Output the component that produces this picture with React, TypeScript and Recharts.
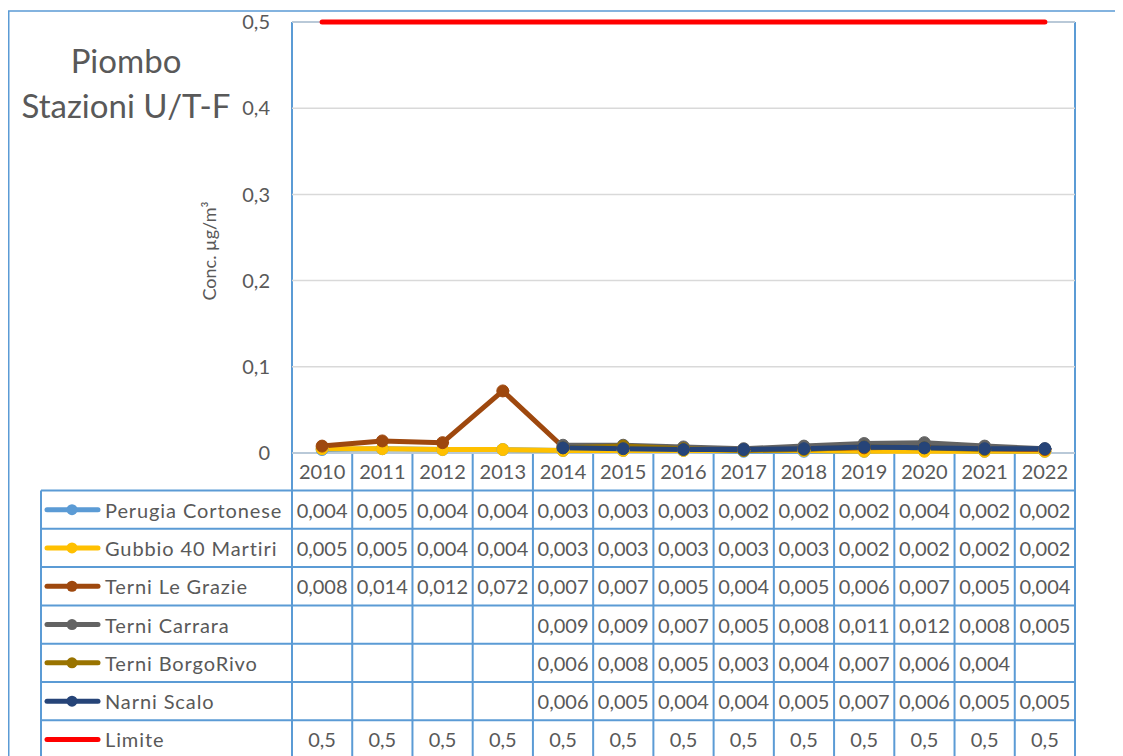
import React from 'react';
import { LineChart, Line, XAxis, YAxis, CartesianGrid } from 'recharts';

// Years on the category axis
const YEARS = ['2010', '2011', '2012', '2013', '2014', '2015', '2016', '2017', '2018', '2019', '2020', '2021', '2022'];

// Annual mean lead concentration (µg/m³) per station
const PERUGIA_CORTONESE = [0.004, 0.005, 0.004, 0.004, 0.003, 0.003, 0.003, 0.002, 0.002, 0.002, 0.004, 0.002, 0.002];
const GUBBIO_40_MARTIRI = [0.005, 0.005, 0.004, 0.004, 0.003, 0.003, 0.003, 0.003, 0.003, 0.002, 0.002, 0.002, 0.002];
const TERNI_LE_GRAZIE = [0.008, 0.014, 0.012, 0.072, 0.007, 0.007, 0.005, 0.004, 0.005, 0.006, 0.007, 0.005, 0.004];
const TERNI_CARRARA = [null, null, null, null, 0.009, 0.009, 0.007, 0.005, 0.008, 0.011, 0.012, 0.008, 0.005];
const TERNI_BORGORIVO = [null, null, null, null, 0.006, 0.008, 0.005, 0.003, 0.004, 0.007, 0.006, 0.004, null];
const NARNI_SCALO = [null, null, null, null, 0.006, 0.005, 0.004, 0.004, 0.005, 0.007, 0.006, 0.005, 0.005];
const LIMITE = [0.5, 0.5, 0.5, 0.5, 0.5, 0.5, 0.5, 0.5, 0.5, 0.5, 0.5, 0.5, 0.5];

const Y_TICKS = [0, 0.1, 0.2, 0.3, 0.4, 0.5];

type Series = { key: string; name: string; color: string; values: (number | null)[]; markers: boolean };

const SERIES: Series[] = [
  { key: 'perugia', name: 'Perugia  Cortonese', color: '#5B9BD5', values: PERUGIA_CORTONESE, markers: true },
  { key: 'gubbio', name: 'Gubbio  40 Martiri', color: '#FFC000', values: GUBBIO_40_MARTIRI, markers: true },
  { key: 'grazie', name: 'Terni Le Grazie', color: '#9E480E', values: TERNI_LE_GRAZIE, markers: true },
  { key: 'carrara', name: 'Terni Carrara', color: '#636363', values: TERNI_CARRARA, markers: true },
  { key: 'borgorivo', name: 'Terni BorgoRivo', color: '#997300', values: TERNI_BORGORIVO, markers: true },
  { key: 'narni', name: 'Narni Scalo', color: '#264478', values: NARNI_SCALO, markers: true },
  { key: 'limite', name: 'Limite', color: '#FF0000', values: LIMITE, markers: false },
];

const data = YEARS.map((year, i) => {
  const row: Record<string, string | number | null> = { year };
  SERIES.forEach((s) => {
    row[s.key] = s.values[i];
  });
  return row;
});

// Layout
const W = 1115;
const H = 748;
const PLOT_LEFT = 284;
const PLOT_RIGHT = 1067;
const PLOT_TOP = 14;
const PLOT_BOTTOM = 445;
const Y_AXIS_W = 60;
const X_AXIS_H = 40;
const COL_W = (PLOT_RIGHT - PLOT_LEFT) / YEARS.length;
const TABLE_LEFT = 33;
const ROW_TOP = 482.5;
const ROW_H = 38.3;

const BLUE = '#5B9BD5';
const TEXT = '#595959';
const FONT = 'Lato, "Open Sans", sans-serif';

const fmt = (v: number) => String(v).replace('.', ',');

function Frame() {
  const colXs = Array.from({ length: YEARS.length + 1 }, (_, k) => PLOT_LEFT + k * COL_W);
  const rowYs = Array.from({ length: SERIES.length + 2 }, (_, k) => ROW_TOP + k * ROW_H);
  return (
    <svg width={W} height={H} style={{ position: 'absolute', left: 0, top: 0 }}>
      {/* chart area border */}
      <rect x={0.75} y={3} width={W + 50} height={H + 50} fill="#fff" stroke={BLUE} strokeWidth={1.5} />
      {/* plot area border */}
      <line x1={PLOT_LEFT} y1={PLOT_TOP} x2={PLOT_RIGHT} y2={PLOT_TOP} stroke={BLUE} strokeWidth={2} />
      <line x1={PLOT_LEFT} y1={PLOT_TOP} x2={PLOT_LEFT} y2={PLOT_BOTTOM} stroke={BLUE} strokeWidth={2} />
      <line x1={PLOT_RIGHT} y1={PLOT_TOP} x2={PLOT_RIGHT} y2={PLOT_BOTTOM} stroke={BLUE} strokeWidth={2} />

      {/* title */}
      <text x={118} y={65} textAnchor="middle" fontFamily={FONT} fontSize={33} fill={TEXT}>
        Piombo
      </text>
      <text x={118} y={110} textAnchor="middle" fontFamily={FONT} fontSize={33} fill={TEXT}>
        Stazioni U/T-F
      </text>

      {/* data table grid */}
      <line x1={PLOT_LEFT} y1={PLOT_BOTTOM} x2={PLOT_RIGHT} y2={PLOT_BOTTOM} stroke={BLUE} strokeWidth={2} />
      {rowYs.map((y, k) => (
        <line key={`r${k}`} x1={TABLE_LEFT} y1={y} x2={PLOT_RIGHT} y2={y} stroke={BLUE} strokeWidth={2} />
      ))}
      <line x1={TABLE_LEFT} y1={ROW_TOP} x2={TABLE_LEFT} y2={H + 10} stroke={BLUE} strokeWidth={2} />
      {colXs.map((x, k) => (
        <line key={`c${k}`} x1={x} y1={PLOT_BOTTOM} x2={x} y2={H + 10} stroke={BLUE} strokeWidth={2} />
      ))}

      {/* rows: legend key, name and values */}
      {SERIES.map((s, r) => {
        const cy = ROW_TOP + (r + 0.5) * ROW_H;
        return (
          <g key={s.key}>
            <line x1={39} y1={cy} x2={90} y2={cy} stroke={s.color} strokeWidth={5} strokeLinecap="round" />
            {s.markers && <circle cx={64} cy={cy} r={5.5} fill={s.color} />}
            <text
              x={97}
              y={cy}
              dominantBaseline="central"
              fontFamily={FONT}
              fontSize={20}
              letterSpacing={0.9}
              fill={TEXT}
            >
              {s.name}
            </text>
            {s.values.map((v, i) =>
              v == null ? null : (
                <text
                  key={i}
                  x={PLOT_LEFT + (i + 0.5) * COL_W}
                  y={cy}
                  textAnchor="middle"
                  dominantBaseline="central"
                  fontFamily={FONT}
                  fontSize={20}
                  fill={TEXT}
                >
                  {fmt(v)}
                </text>
              ),
            )}
          </g>
        );
      })}

      {/* value axis title */}
      <text
        x={0}
        y={0}
        transform={`translate(${201},${243}) rotate(-90)`}
        textAnchor="middle"
        dominantBaseline="central"
        fontFamily={FONT}
        fontSize={18}
        fill={TEXT}
      >
        Conc.  µg/m³
      </text>
    </svg>
  );
}

export default function App() {
  return (
    <div style={{ position: 'relative', width: W, height: H, overflow: 'hidden' }}>
      <Frame />
      <LineChart
        width={W}
        height={H}
        data={data}
        margin={{ top: PLOT_TOP, right: W - PLOT_RIGHT, left: PLOT_LEFT - Y_AXIS_W, bottom: H - PLOT_BOTTOM - X_AXIS_H }}
        style={{ position: 'absolute', left: 0, top: 0 }}
      >
        <CartesianGrid horizontal vertical={false} stroke="#D9D9D9" strokeWidth={1.5} />
        <XAxis
          dataKey="year"
          height={X_AXIS_H}
          padding={{ left: COL_W / 2, right: COL_W / 2 }}
          axisLine={false}
          tickLine={false}
          tickSize={0}
          tickMargin={12}
          interval={0}
          tick={{ fontFamily: FONT, fontSize: 20, fill: TEXT }}
        />
        <YAxis
          width={Y_AXIS_W}
          domain={[0, 0.5]}
          ticks={Y_TICKS}
          axisLine={false}
          tickLine={false}
          tickSize={0}
          tickMargin={22}
          tickFormatter={(v: number) => fmt(v)}
          tick={{ fontFamily: FONT, fontSize: 20, fill: TEXT }}
        />
        {SERIES.map((s) => (
          <Line
            key={s.key}
            dataKey={s.key}
            name={s.name}
            type="linear"
            stroke={s.color}
            strokeWidth={5}
            strokeLinecap="round"
            strokeLinejoin="round"
            dot={s.markers ? { r: 6, fill: s.color, stroke: s.color, strokeWidth: 1 } : false}
            activeDot={false}
            isAnimationActive={false}
          />
        ))}
      </LineChart>
    </div>
  );
}
